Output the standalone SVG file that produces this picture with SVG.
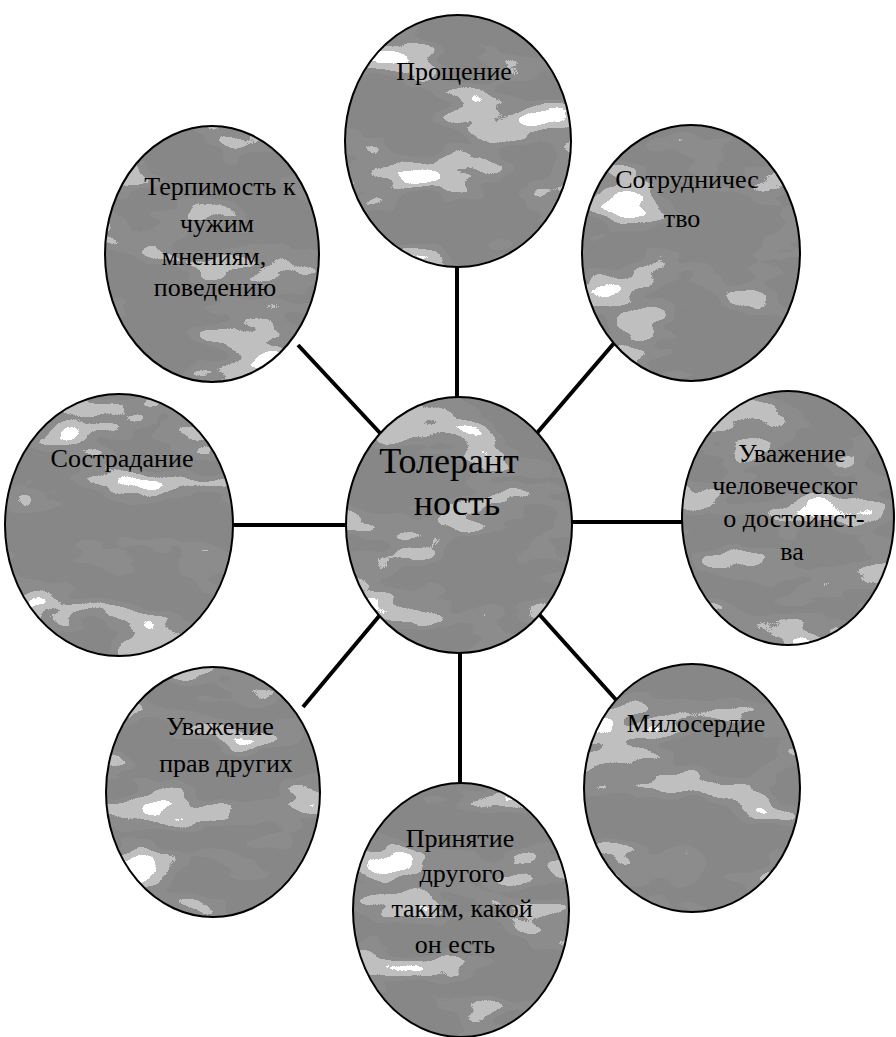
<svg xmlns="http://www.w3.org/2000/svg" width="896" height="1037" viewBox="0 0 896 1037">
<style>
.bg{fill:#ffffff}
.conn line{stroke:#000;stroke-width:4;stroke-linecap:butt}
.fillshape{fill:#000;filter:url(#marble)}
.outline{fill:none;stroke:#000;stroke-width:2}
text{font-family:"Liberation Serif","Times New Roman",serif;font-size:26px;fill:#000;text-anchor:middle}
.big{font-size:36px}
</style>
<defs>
<filter id="marble" x="0" y="0" width="1" height="1" color-interpolation-filters="sRGB">
<feTurbulence type="fractalNoise" baseFrequency="0.009 0.02" numOctaves="3" seed="7" result="n"/>
<feColorMatrix in="n" type="matrix" values="1 0 0 0 0  1 0 0 0 0  1 0 0 0 0  0 0 0 0 1" result="g"/>
<feComponentTransfer in="g" result="t">
<feFuncR type="discrete" tableValues="0.53 0.53 0.53 0.53 0.53 0.55 0.75 1 1 1"/>
<feFuncG type="discrete" tableValues="0.53 0.53 0.53 0.53 0.53 0.55 0.75 1 1 1"/>
<feFuncB type="discrete" tableValues="0.53 0.53 0.53 0.53 0.53 0.55 0.75 1 1 1"/>
</feComponentTransfer>
<feComposite in="t" in2="SourceGraphic" operator="in"/>
</filter>
</defs>
<rect class="bg" x="0" y="0" width="896" height="1037"/>
<g id="connectors" class="conn">
<line x1="457" y1="267" x2="457" y2="398"/>
<line x1="298" y1="345" x2="380" y2="433"/>
<line x1="615" y1="342" x2="537" y2="433"/>
<line x1="233" y1="525" x2="347" y2="525"/>
<line x1="570" y1="522" x2="682" y2="522"/>
<line x1="380" y1="615" x2="303" y2="707"/>
<line x1="460" y1="652" x2="460" y2="783"/>
<line x1="538" y1="613" x2="618" y2="702"/>
</g>
<g id="node-center">
<ellipse class="fillshape" cx="459" cy="525" rx="113" ry="128"/>
<ellipse class="outline" cx="459" cy="525" rx="113" ry="128"/>
<text class="big" x="449" y="473">Толерант</text>
<text class="big" x="457" y="515">ность</text>
</g>
<g id="node-proshchenie">
<ellipse class="fillshape" cx="458" cy="141" rx="113" ry="126"/>
<ellipse class="outline" cx="458" cy="141" rx="113" ry="126"/>
<text x="454" y="80">Прощение</text>
</g>
<g id="node-terpimost">
<ellipse class="fillshape" cx="212" cy="254" rx="107" ry="128"/>
<ellipse class="outline" cx="212" cy="254" rx="107" ry="128"/>
<text x="220" y="195">Терпимость к</text>
<text x="217" y="232">чужим</text>
<text x="214" y="265">мнениям,</text>
<text x="215" y="296">поведению</text>
</g>
<g id="node-sotrudnichestvo">
<ellipse class="fillshape" cx="691" cy="253" rx="109" ry="128"/>
<ellipse class="outline" cx="691" cy="253" rx="109" ry="128"/>
<text x="687" y="188">Сотрудничес</text>
<text x="682" y="227">тво</text>
</g>
<g id="node-sostradanie">
<ellipse class="fillshape" cx="119" cy="525" rx="114" ry="131"/>
<ellipse class="outline" cx="119" cy="525" rx="114" ry="131"/>
<text x="122" y="467">Сострадание</text>
</g>
<g id="node-uvazhenie-dostoinstva">
<ellipse class="fillshape" cx="788" cy="518" rx="106" ry="127"/>
<ellipse class="outline" cx="788" cy="518" rx="106" ry="127"/>
<text x="792" y="462">Уважение</text>
<text x="785" y="494">человеческог</text>
<text x="794" y="527">о достоинст-</text>
<text x="792" y="560">ва</text>
</g>
<g id="node-uvazhenie-prav">
<ellipse class="fillshape" cx="213" cy="792" rx="107" ry="125"/>
<ellipse class="outline" cx="213" cy="792" rx="107" ry="125"/>
<text x="220" y="735">Уважение</text>
<text x="226" y="772">прав других</text>
</g>
<g id="node-miloserdie">
<ellipse class="fillshape" cx="692" cy="788" rx="108" ry="124"/>
<ellipse class="outline" cx="692" cy="788" rx="108" ry="124"/>
<text x="696" y="732">Милосердие</text>
</g>
<g id="node-prinyatie">
<ellipse class="fillshape" cx="461" cy="910" rx="108" ry="127"/>
<ellipse class="outline" cx="461" cy="910" rx="108" ry="127"/>
<text x="460" y="847">Принятие</text>
<text x="462" y="882">другого</text>
<text x="462" y="917">таким, какой</text>
<text x="455" y="953">он есть</text>
</g>
</svg>
